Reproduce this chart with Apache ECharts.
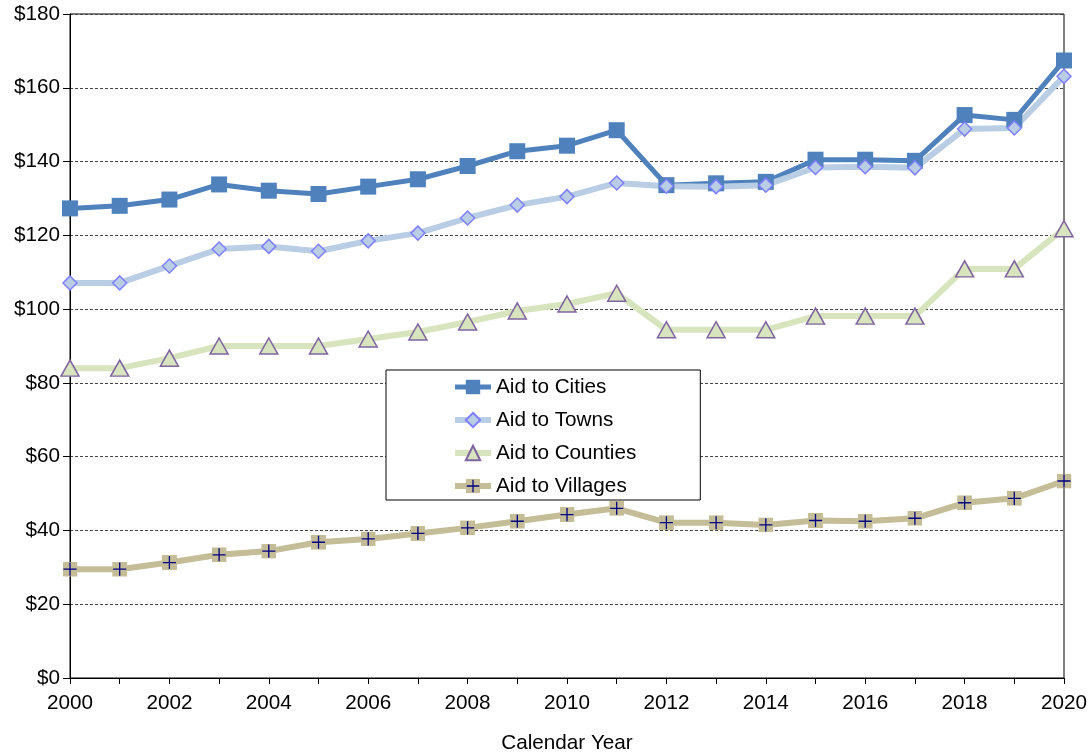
<!DOCTYPE html>
<html>
<head>
<meta charset="utf-8">
<title>Aid to municipalities</title>
<script src="https://cdn.jsdelivr.net/npm/echarts@6/dist/echarts.min.js"></script>
<style>
  html, body { margin: 0; padding: 0; background: #fff; }
  #chart { width: 1088px; height: 756px; }
</style>
</head>
<body>
<div id="chart"></div>
<script>
// calendar years on the x axis
var years = ['2000','2001','2002','2003','2004','2005','2006','2007','2008','2009','2010',
             '2011','2012','2013','2014','2015','2016','2017','2018','2019','2020'];

// values in $ millions
var cities   = [127.3, 128.0, 129.7, 133.8, 132.1, 131.2, 133.2, 135.2, 138.8, 142.8, 144.3,
                148.5, 133.6, 134.1, 134.5, 140.5, 140.5, 140.2, 152.6, 151.3, 167.4];
var towns    = [107.1, 107.1, 111.7, 116.3, 117.0, 115.7, 118.5, 120.6, 124.7, 128.2, 130.5,
                134.2, 133.3, 133.2, 133.6, 138.4, 138.6, 138.3, 148.8, 149.1, 163.1];
var counties = [84.0, 84.0, 86.7, 90.0, 90.0, 90.0, 91.9, 93.8, 96.5, 99.5, 101.4,
                104.3, 94.4, 94.4, 94.4, 98.1, 98.1, 98.1, 110.9, 110.9, 121.8];
var villages = [29.5, 29.5, 31.3, 33.4, 34.4, 36.8, 37.7, 39.2, 40.7, 42.5, 44.3,
                46.0, 42.1, 42.1, 41.5, 42.7, 42.5, 43.3, 47.5, 48.7, 53.4];

var yTicks = [0, 20, 40, 60, 80, 100, 120, 140, 160, 180];

var font = 'Liberation Sans, Arial, sans-serif';
var fs = 20.7;

// tan square with a navy plus, as in the original marker
var villageSvg = "<svg xmlns='http://www.w3.org/2000/svg' width='16' height='16'>" +
  "<rect width='16' height='16' fill='#C4BD97'/>" +
  "<path d='M8 1V15M1 8H15' stroke='#000080' stroke-width='1.4'/></svg>";
var villageSymbol = 'image://data:image/svg+xml;charset=utf-8,' + encodeURIComponent(villageSvg);

var myChart = echarts.init(document.getElementById('chart'));

option = {
    backgroundColor: '#fff',
    animation: false,
    textStyle: { fontFamily: font },
    grid: {
        left: 70, right: 24, top: 14, bottom: 78,
        outerBoundsMode: 'none',
        show: true, borderColor: '#000', borderWidth: 1, backgroundColor: 'transparent'
    },
    legend: {
        orient: 'vertical',
        left: 386, top: 370,
        backgroundColor: '#fff',
        borderColor: '#000', borderWidth: 1, borderRadius: 0,
        padding: [6, 64, 3, 66],
        itemWidth: 36, itemHeight: 18, itemGap: 11,
        align: 'left',
        textStyle: { fontSize: fs, color: '#000', fontFamily: font, lineHeight: 22 },
        data: [
            { name: 'Aid to Cities', lineStyle: { width: 5 } },
            { name: 'Aid to Towns', lineStyle: { width: 6 } },
            { name: 'Aid to Counties', lineStyle: { width: 6 } },
            { name: 'Aid to Villages', lineStyle: { width: 6 } }
        ]
    },
    xAxis: {
        type: 'category',
        data: years,
        boundaryGap: false,
        name: 'Calendar Year',
        nameLocation: 'middle',
        nameGap: 55,
        nameTextStyle: { fontSize: fs, color: '#000', fontFamily: font },
        axisLine: { lineStyle: { color: '#000', width: 1 } },
        axisTick: { show: true, interval: 0, length: 6, lineStyle: { color: '#000' } },
        axisLabel: { interval: 1, fontSize: fs, color: '#000', margin: 15, fontFamily: font },
        splitLine: { show: false }
    },
    yAxis: {
        type: 'value',
        min: yTicks[0], max: yTicks[yTicks.length - 1], interval: 20,
        axisLine: { show: true, lineStyle: { color: '#000', width: 1 } },
        axisTick: { show: true, length: 7, lineStyle: { color: '#000' } },
        axisLabel: {
            fontSize: fs, color: '#000', margin: 10, fontFamily: font,
            formatter: function (v) { return '$' + v; }
        },
        splitLine: { show: true, lineStyle: { color: '#444', width: 1, type: [3, 2] } }
    },
    series: [
        {
            name: 'Aid to Cities', type: 'line', data: cities,
            symbol: 'rect', symbolSize: 16,
            lineStyle: { color: '#4F81BD', width: 5 },
            itemStyle: { color: '#4F81BD', borderWidth: 0 }
        },
        {
            name: 'Aid to Towns', type: 'line', data: towns,
            symbol: 'diamond', symbolSize: 14,
            lineStyle: { color: '#B9CDE5', width: 6 },
            itemStyle: { color: '#B9CDE5', borderColor: '#7F7FFF', borderWidth: 1.5 }
        },
        {
            name: 'Aid to Counties', type: 'line', data: counties,
            symbol: 'triangle', symbolSize: [18, 16],
            lineStyle: { color: '#D7E4BD', width: 6 },
            itemStyle: { color: '#D7E4BD', borderColor: '#8064A2', borderWidth: 1.5 }
        },
        {
            name: 'Aid to Villages', type: 'line', data: villages,
            symbol: villageSymbol, symbolSize: 15,
            lineStyle: { color: '#C4BD97', width: 6 },
            itemStyle: { color: '#C4BD97' }
        }
    ]
};

myChart.setOption(option);
window.onresize = myChart.resize;
</script>
</body>
</html>
